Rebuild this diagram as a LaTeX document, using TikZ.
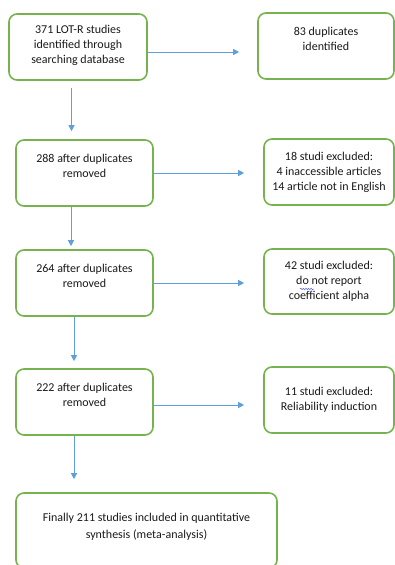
\documentclass[tikz,border=0pt]{standalone}
\usepackage{fontspec}
\setmainfont{Carlito}
\usetikzlibrary{positioning,calc,arrows.meta,decorations.pathmorphing}

\definecolor{boxgreen}{RGB}{118,178,78}
\definecolor{flowblue}{RGB}{96,160,218}
\definecolor{spellblue}{RGB}{80,100,225}
\definecolor{inkgray}{RGB}{25,25,25}

\begin{document}
\begin{tikzpicture}[x=1pt,y=-1pt,
    stage/.style={draw=boxgreen, line width=1.6pt, rounded corners=8pt, align=center,
      text=inkgray, font=\fontsize{12}{15}\selectfont, inner sep=0pt},
    flow/.style={draw=flowblue, line width=0.9pt, -{Triangle[length=6pt,width=6pt]}},
    spellwave/.style={draw=spellblue, line width=0.5pt, decorate,
      decoration={snake, amplitude=0.7pt, segment length=2.6pt}}]
  \useasboundingbox (0,0) rectangle (395,565);

  % left column
  \node[stage, minimum width=138pt, minimum height=66pt] (s1) at (78,47)
    {371 LOT-R studies\\identified through\\searching database\\[-9pt]\mbox{}};
  \node[stage, minimum width=137pt, minimum height=66pt] (s3) at (84.5,173)
    {288 after duplicates\\removed\\\mbox{}};
  \node[stage, minimum width=137pt, minimum height=66pt] (s5) at (84.5,283)
    {264 after duplicates\\removed\\\mbox{}};
  \node[stage, minimum width=137pt, minimum height=66pt] (s7) at (84.5,402)
    {222 after duplicates\\removed\\\mbox{}};
  \node[stage, minimum width=261pt, minimum height=75pt, font=\fontsize{12}{17}\selectfont] (s9) at (146.5,530.5)
    {Finally 211 studies included in quantitative\\synthesis (meta-analysis)\\[-8pt]\mbox{}};

  % right column
  \node[stage, minimum width=136pt, minimum height=66pt] (s2) at (326,46)
    {83 duplicates\\identified\\\mbox{}};
  \node[stage, minimum width=130pt, minimum height=66pt] (s4) at (329,172)
    {18 studi excluded:\\4 inaccessible articles\\14 article not in English};
  \node[stage, minimum width=130pt, minimum height=65pt] (s6) at (329,281.5)
    {42 studi excluded:\\do not report\\coefficient alpha};
  \node[stage, minimum width=130pt, minimum height=66pt] (s8) at (329,400)
    {11 studi excluded:\\Reliability induction};

  % spell check mark under "do"
  \draw[spellwave] (300,289) -- (314,289);

  % exclusions
  \draw[flow, shorten >=18pt] ([yshift=-5pt]s1.east) -- ([yshift=-5pt]s1.east -| s2.west);
  \draw[flow, shorten >=19pt] (s3.east) -- (s3.east -| s4.west);
  \draw[flow, shorten >=19pt] (s5.east) -- (s5.east -| s6.west);
  \draw[flow, shorten >=19pt] ([yshift=-3pt]s7.east) -- ([yshift=-3pt]s7.east -| s8.west);

  % main flow
  \draw[flow, shorten <=7pt, shorten >=8pt] ([xshift=-6.5pt]s1.south) -- ([xshift=-6.5pt]s1.south |- s3.north);
  \draw[flow, shorten >=3pt] ([xshift=-13.5pt]s3.south) -- ([xshift=-13.5pt]s3.south |- s5.north);
  \draw[flow, shorten >=7pt] ([xshift=-10.5pt]s5.south) -- ([xshift=-10.5pt]s5.south |- s7.north);
  \draw[flow, shorten >=13pt] ([xshift=-10.5pt]s7.south) -- ([xshift=-10.5pt]s7.south |- s9.north);
\end{tikzpicture}
\end{document}
